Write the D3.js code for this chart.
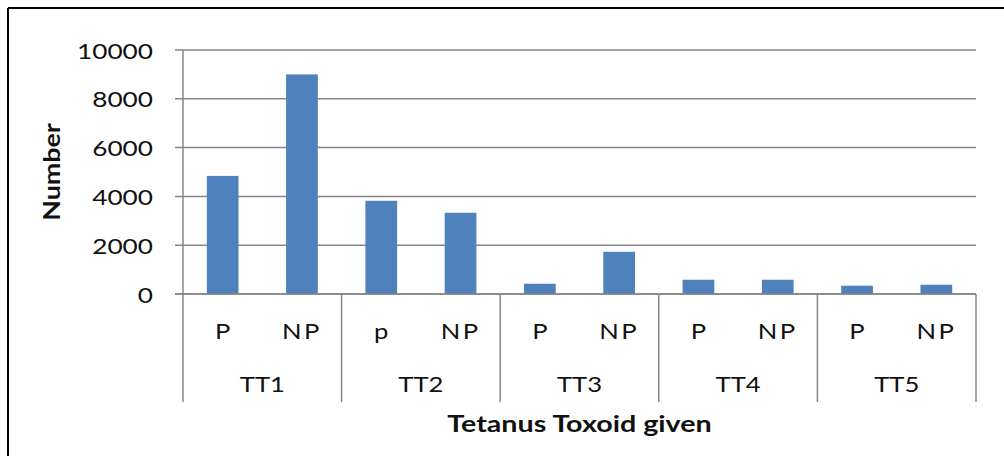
<!DOCTYPE html>
<html>
<head>
<meta charset="utf-8">
<script src="https://cdnjs.cloudflare.com/ajax/libs/d3/7.8.5/d3.min.js"></script>
<style>
  html, body { margin: 0; padding: 0; background: #ffffff; }
  svg { display: block; }
  text { font-family: Lato, "Open Sans", "Liberation Sans", sans-serif; fill: #111; }
</style>
</head>
<body>
<svg id="chart" width="1004" height="456"></svg>
<script>
// ---- data ----
const groups = ["TT1", "TT2", "TT3", "TT4", "TT5"];
const subLabels = ["P", "NP", "p", "NP", "P", "NP", "P", "NP", "P", "NP"];
const values = [4840, 9000, 3820, 3330, 420, 1730, 585, 585, 340, 380];
const yTicks = [0, 2000, 4000, 6000, 8000, 10000];
const yTitle = "Number";
const xTitle = "Tetanus Toxoid given";

// ---- layout ----
const W = 1004, H = 456;
const plot = { left: 183, right: 976, top: 50, bottom: 294 };
const sepBottom = 402;
const SX = 1.22; // horizontal stretch of the text in the reference
const gridColor = "#868686";
const barColor = "#4F81BD";

const svg = d3.select("#chart");

// frame lines (left and top)
svg.append("line").attr("x1", 8).attr("y1", 8).attr("x2", W).attr("y2", 8)
  .attr("stroke", "#000").attr("stroke-width", 2);
svg.append("line").attr("x1", 8).attr("y1", 8).attr("x2", 8).attr("y2", H)
  .attr("stroke", "#000").attr("stroke-width", 2);

const bars = values.map((v, i) => ({ value: v, group: groups[Math.floor(i / 2)], sub: i % 2, label: subLabels[i] }));

const y = d3.scaleLinear().domain([0, 10000]).range([plot.bottom, plot.top]);
const xGroup = d3.scaleBand().domain(groups).range([plot.left, plot.right]).padding(0);
const xSub = d3.scaleBand().domain([0, 1]).range([0, xGroup.bandwidth()])
  .paddingInner(0.6).paddingOuter(0.3);

// gridlines + ticks
svg.append("g").selectAll("line").data(yTicks).join("line")
  .attr("x1", plot.left - 8).attr("x2", plot.right)
  .attr("y1", d => y(d)).attr("y2", d => y(d))
  .attr("stroke", gridColor).attr("stroke-width", 1.5);

// tick labels
svg.append("g").selectAll("text").data(yTicks).join("text")
  .attr("transform", d => `translate(153,${y(d)}) scale(${SX},1)`)
  .attr("text-anchor", "end")
  .attr("dominant-baseline", "central")
  .attr("font-size", 21.5)
  .text(d => d3.format("d")(d));

// vertical axis line
svg.append("line").attr("x1", plot.left).attr("x2", plot.left)
  .attr("y1", plot.top).attr("y2", sepBottom)
  .attr("stroke", gridColor).attr("stroke-width", 1.5);

// group separators
const seps = groups.map(g => xGroup(g) + xGroup.bandwidth());
svg.append("g").selectAll("line").data(seps).join("line")
  .attr("x1", d => d).attr("x2", d => d)
  .attr("y1", plot.bottom).attr("y2", sepBottom)
  .attr("stroke", gridColor).attr("stroke-width", 1.5);

// bars
svg.append("g").selectAll("rect").data(bars).join("rect")
  .attr("x", d => xGroup(d.group) + xSub(d.sub))
  .attr("width", xSub.bandwidth())
  .attr("y", d => y(d.value))
  .attr("height", d => y(0) - y(d.value))
  .attr("fill", barColor);

// redraw baseline on top of bars
svg.append("line").attr("x1", plot.left - 8).attr("x2", plot.right)
  .attr("y1", y(0)).attr("y2", y(0))
  .attr("stroke", gridColor).attr("stroke-width", 1.5);

// sub labels
svg.append("g").selectAll("text").data(bars).join("text")
  .attr("transform", d => `translate(${xGroup(d.group) + xSub(d.sub) + xSub.bandwidth() / 2},331) scale(${SX},1)`)
  .attr("text-anchor", "middle")
  .attr("dominant-baseline", "central")
  .attr("font-size", 21)
  .attr("letter-spacing", d => d.label.length > 1 ? 2 : 0)
  .text(d => d.label);

// group labels
svg.append("g").selectAll("text").data(groups).join("text")
  .attr("transform", d => `translate(${xGroup(d) + xGroup.bandwidth() / 2},384) scale(${SX},1)`)
  .attr("text-anchor", "middle")
  .attr("dominant-baseline", "central")
  .attr("font-size", 21)
  .text(d => d);

// axis titles
svg.append("text")
  .attr("transform", `translate(${(plot.left + plot.right) / 2},432) scale(${SX},1)`)
  .attr("text-anchor", "middle")
  .attr("font-size", 23.5)
  .attr("font-weight", "bold")
  .text(xTitle);

svg.append("text")
  .attr("transform", `translate(60,${(plot.top + plot.bottom) / 2}) rotate(-90) scale(${SX},1)`)
  .attr("text-anchor", "middle")
  .attr("font-size", 22)
  .attr("font-weight", "bold")
  .text(yTitle);
</script>
</body>
</html>
